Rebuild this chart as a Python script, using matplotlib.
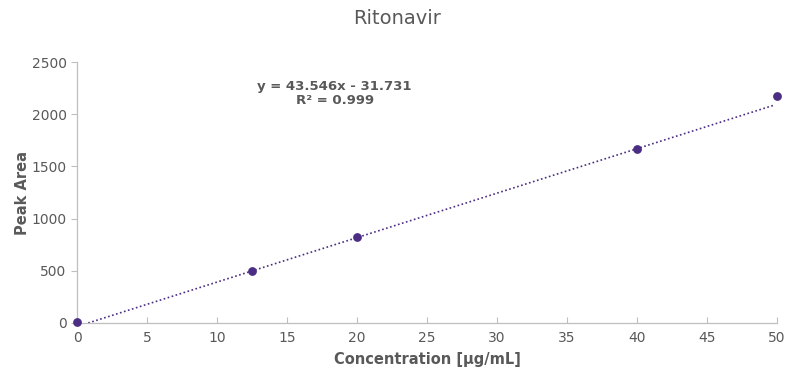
import numpy as np
import matplotlib
matplotlib.use("Agg")
import matplotlib.pyplot as plt

# data
conc = [0, 12.5, 20, 40, 50]
area = [10, 498, 824, 1667, 2174]
# trendline as it is drawn in the picture (sits a bit under the printed fit)
trend_slope = 42.6
trend_intercept = -34.0
equation = "y = 43.546x - 31.731\nR² = 0.999"
x_ticks = [0, 5, 10, 15, 20, 25, 30, 35, 40, 45, 50]
y_ticks = [0, 500, 1000, 1500, 2000, 2500]

purple = "#4B2E83"
grey = "#595959"
axis_grey = "#BFBFBF"

plt.rcParams["font.family"] = ["DejaVu Sans"]

fig = plt.figure(figsize=(7.95, 3.76), dpi=100)
ax = fig.add_axes([0.0969, 0.141, 0.8805, 0.694])

# trendline, starting where it crosses zero
x0 = -trend_intercept / trend_slope
xs = np.array([x0, 49.8])
ax.plot(xs, trend_slope * xs + trend_intercept, linestyle=(0, (1, 1.5)),
        color=purple, lw=1.2, zorder=2)
ax.scatter(conc, area, s=28, color=purple, zorder=3, clip_on=False)

ax.set_xlim(0, 50)
ax.set_ylim(0, 2500)
ax.set_xticks(x_ticks)
ax.set_yticks(y_ticks)

for side in ["top", "right"]:
    ax.spines[side].set_visible(False)
for side in ["left", "bottom"]:
    ax.spines[side].set_color(axis_grey)
    ax.spines[side].set_linewidth(0.9)
ax.tick_params(axis="both", colors=axis_grey, labelcolor=grey, labelsize=10, length=4, width=0.8)
ax.tick_params(axis="x", direction="in", pad=6)

ax.set_xlabel("Concentration [µg/mL]", fontsize=10.5, fontweight="bold", color=grey, labelpad=5)
ax.set_ylabel("Peak Area", fontsize=10.5, fontweight="bold", color=grey, labelpad=1)
fig.text(0.5, 0.95, "Ritonavir", ha="center", va="center", fontsize=14, color=grey)

ax.text(0.368, 0.88, equation, transform=ax.transAxes,
        ha="center", va="center", fontsize=9.5, fontweight="bold", color=grey, linespacing=1.15)

fig.savefig("out.png", dpi=100)
